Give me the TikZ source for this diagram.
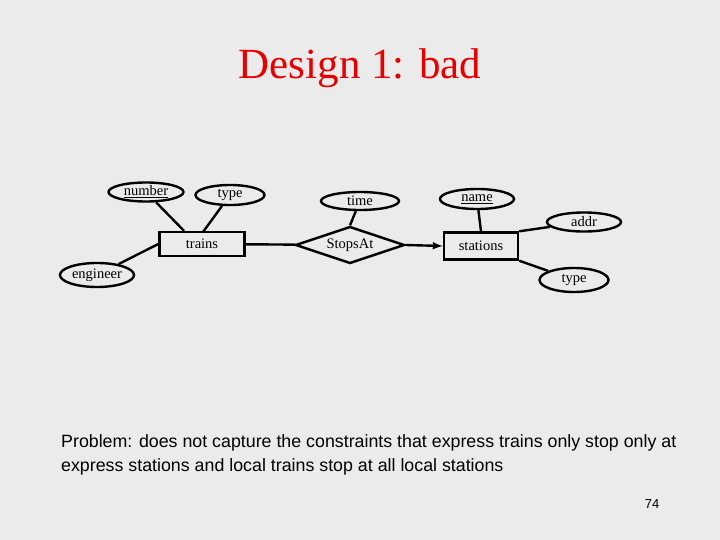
\documentclass[tikz,border=0pt]{standalone}
\usepackage{fontspec}
\setmainfont{Liberation Serif}
\newfontfamily\arialf{Liberation Sans}
\usetikzlibrary{shapes.geometric}
\begin{document}
\begin{tikzpicture}[x=1pt,y=-1pt,
  attr/.style={ellipse,draw,line width=2.4pt,inner sep=0pt,font=\fontsize{14.5}{14.5}\selectfont},
  ent/.style={rectangle,draw,line width=2.4pt,inner sep=0pt,font=\fontsize{14.5}{14.5}\selectfont},
  rel/.style={diamond,draw,line width=2.4pt,inner sep=0pt,aspect=3,font=\fontsize{14.5}{14.5}\selectfont},
  conn/.style={line width=2.4pt}]
\fill[fill={rgb,255:red,235;green,235;blue,235}] (0,0) rectangle (720,540);
\useasboundingbox (0,0) rectangle (720,540);
\node[text={rgb,255:red,230;green,0;blue,0},font=\fontsize{43}{43}\selectfont] (title) at (360,68) {Design 1: bad};
\node[attr,minimum width=75pt,minimum height=19pt] (num) at (146,192) {\underline{number}};
\node[attr,minimum width=69pt,minimum height=20pt] (ty1) at (230,195) {type};
\node[attr,minimum width=74pt,minimum height=24pt] (eng) at (97,275) {engineer};
\node[ent,minimum width=85pt,minimum height=24pt] (tr) at (202,244) {trains};
\node[rel,minimum width=109pt,minimum height=37pt] (sa) at (350,245) {StopsAt};
\node[attr,minimum width=78pt,minimum height=18pt] (time) at (360,201) {time};
\node[ent,minimum width=74pt,minimum height=27pt] (st) at (481,246) {stations};
\node[attr,minimum width=74pt,minimum height=20pt] (name) at (477,199) {\underline{name}};
\node[attr,minimum width=74pt,minimum height=19pt] (addr) at (584,222) {addr};
\node[attr,minimum width=69pt,minimum height=24pt] (ty2) at (574,280) {type};
\draw[conn] (num) -- (tr.north west -| 184,0);
\draw[conn] (ty1) -- (203,232);
\draw[conn] (eng) -- (tr.west);
\draw[conn] (tr) -- (sa);
\draw[conn,-latex] (sa.east) -- (st.west);
\draw[conn] (time) -- (sa.north);
\draw[conn] (name) -- (st.north);
\draw[conn] (st.north east) -- (addr);
\draw[conn] (st.south east) -- (ty2);
\node[anchor=north west,align=left,font=\arialf\fontsize{17.8}{24}\selectfont,inner sep=0pt] (prob) at (61,434) {Problem: does not capture the constraints that express trains only stop only at\\express stations and local trains stop at all local stations};
\node[font=\arialf\fontsize{13}{13}\selectfont] (pg) at (652,504) {74};
\end{tikzpicture}
\end{document}
